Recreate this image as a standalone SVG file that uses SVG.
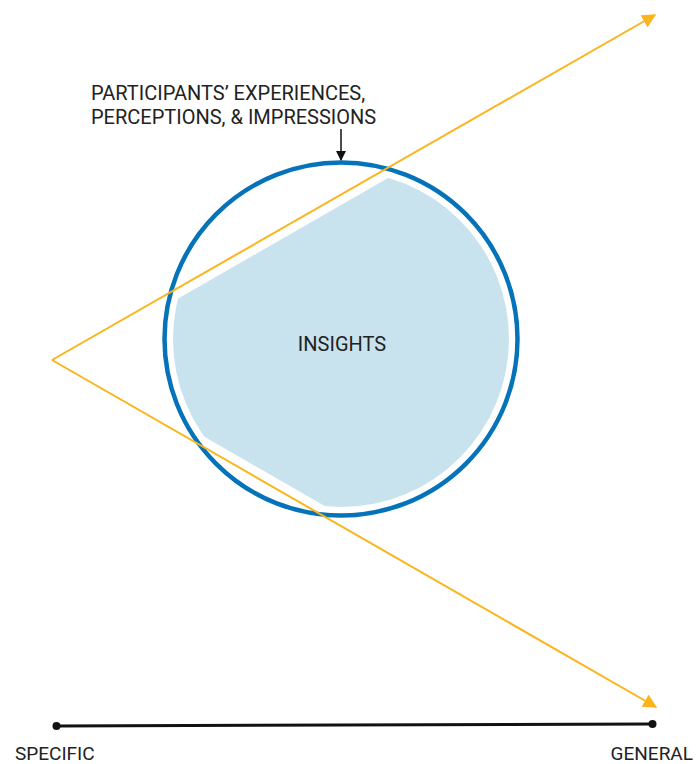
<svg xmlns="http://www.w3.org/2000/svg" width="696" height="764" viewBox="0 0 696 764">
<style>
.t{font-family:Roboto,"Liberation Sans",sans-serif;font-size:20px;fill:#222}
.b{font-size:19px}
.y{stroke:#fbb41c;stroke-width:2;fill:none}
</style>
<defs>
<marker id="ya" viewBox="0 0 10 10" refX="9" refY="5" markerWidth="7" markerHeight="7" markerUnits="strokeWidth" orient="auto"><path d="M0,0L10,5L0,10z" fill="#fbb41c"/></marker>
<marker id="ba" viewBox="0 0 10 10" refX="9" refY="5" markerWidth="7" markerHeight="7" markerUnits="strokeWidth" orient="auto"><path d="M0,0L10,5L0,10z" fill="#111"/></marker>
<clipPath id="tri"><polygon points="71,360 700,-1 700,722"/></clipPath>
</defs>
<g id="insights">
<circle cx="341" cy="339" r="168" fill="#c8e3ee" clip-path="url(#tri)"/>
<circle cx="341" cy="339" r="176.5" fill="none" stroke="#0573b9" stroke-width="4.5"/>
<text class="t" x="342" y="351" text-anchor="middle">INSIGHTS</text>
</g>
<g id="label">
<text class="t" x="91" y="100">PARTICIPANTS’ EXPERIENCES,</text>
<text class="t" x="91" y="123.5">PERCEPTIONS, &amp; IMPRESSIONS</text>
</g>
<g id="scale">
<line x1="56.5" y1="726" x2="652.5" y2="724" stroke="#111" stroke-width="3"/>
<circle cx="56.5" cy="726" r="4" fill="#111"/>
<circle cx="652.5" cy="724" r="4" fill="#111"/>
<text class="t b" x="15" y="760">SPECIFIC</text>
<text class="t b" x="693" y="760" text-anchor="end">GENERAL</text>
</g>
<g id="connectors">
<line class="y" x1="52" y1="360" x2="655" y2="15" marker-end="url(#ya)"/>
<line class="y" x1="52" y1="360" x2="656" y2="707" marker-end="url(#ya)"/>
<line x1="341" y1="129" x2="341" y2="160" stroke="#111" stroke-width="1.5" marker-end="url(#ba)"/>
</g>
</svg>
